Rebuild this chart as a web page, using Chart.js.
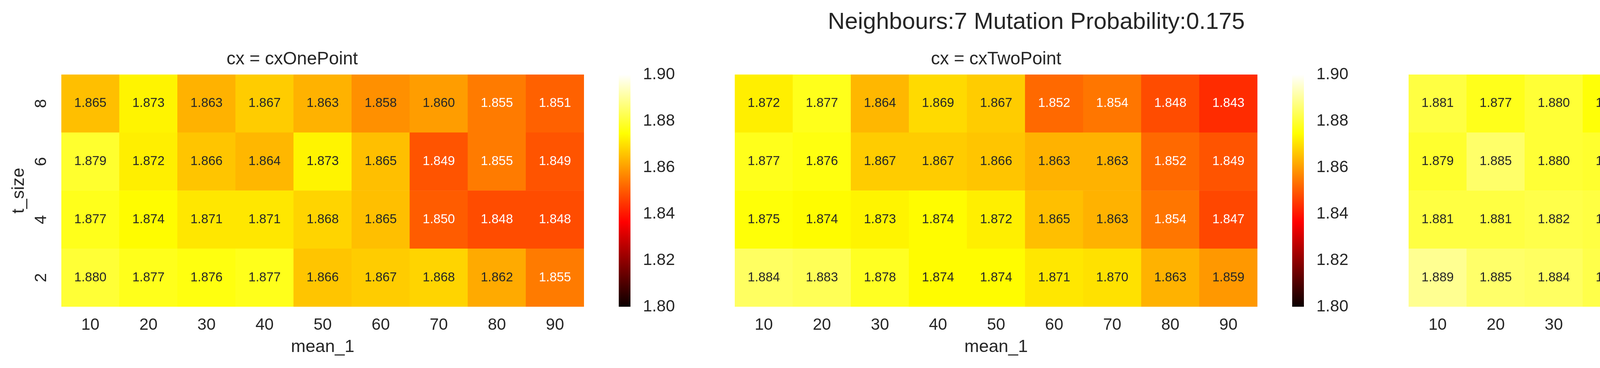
<!DOCTYPE html>
<html>
<head>
<meta charset="utf-8">
<script src="https://cdn.jsdelivr.net/npm/chart.js@4.4.1/dist/chart.umd.min.js"></script>
<style>
  html, body { margin: 0; padding: 0; background: #fff; overflow: hidden; }
  #page { position: relative; width: 5202px; height: 943px; background: #fff; }
  #page canvas { position: absolute; top: 0; }
  #suptitle {
    position: absolute; top: 24px; left: 2653px; transform: translateX(-50%);
    font: 60px "Liberation Sans", Arial, sans-serif; line-height: 60px;
    color: #262626; white-space: nowrap;
  }
</style>
</head>
<body>
<div id="page">
  <div id="suptitle">Neighbours:7 Mutation Probability:0.175</div>
  <canvas id="hm1" width="1650" height="943" style="left:1px"></canvas>
  <canvas id="hm2" width="1650" height="943" style="left:1725px"></canvas>
  <canvas id="hm3" width="1650" height="943" style="left:3450px"></canvas>
  <canvas id="cb1" width="170" height="943" style="left:1584px"></canvas>
  <canvas id="cb2" width="170" height="943" style="left:3308px"></canvas>
  <canvas id="cb3" width="170" height="943" style="left:5032px"></canvas>
</div>
<script>
// axes
const mean1 = ['10', '20', '30', '40', '50', '60', '70', '80', '90'];
const tSize = ['2', '4', '6', '8']; // from bottom row to top row
const cbarTicks = [1.80, 1.82, 1.84, 1.86, 1.88, 1.90];
const vmin = 1.80, vmax = 1.90;

// values, one row per t_size (2, 4, 6, 8)
const onePoint = [
  [1.880, 1.877, 1.876, 1.877, 1.866, 1.867, 1.868, 1.862, 1.855],
  [1.877, 1.874, 1.871, 1.871, 1.868, 1.865, 1.850, 1.848, 1.848],
  [1.879, 1.872, 1.866, 1.864, 1.873, 1.865, 1.849, 1.855, 1.849],
  [1.865, 1.873, 1.863, 1.867, 1.863, 1.858, 1.860, 1.855, 1.851]
];
const twoPoint = [
  [1.884, 1.883, 1.878, 1.874, 1.874, 1.871, 1.870, 1.863, 1.859],
  [1.875, 1.874, 1.873, 1.874, 1.872, 1.865, 1.863, 1.854, 1.847],
  [1.877, 1.876, 1.867, 1.867, 1.866, 1.863, 1.863, 1.852, 1.849],
  [1.872, 1.877, 1.864, 1.869, 1.867, 1.852, 1.854, 1.848, 1.843]
];
const uniform = [
  [1.889, 1.885, 1.884, 1.882, 1.881, 1.877, 1.879, 1.877, 1.869],
  [1.881, 1.881, 1.882, 1.881, 1.881, 1.875, 1.871, 1.866, 1.856],
  [1.879, 1.885, 1.880, 1.879, 1.877, 1.874, 1.871, 1.868, 1.860],
  [1.881, 1.877, 1.880, 1.875, 1.871, 1.875, 1.868, 1.864, 1.853]
];

const ink = '#262626';
Chart.defaults.font.family = '"Liberation Sans", Arial, sans-serif';
Chart.defaults.color = ink;

// matplotlib "hot" colormap (256 entries)
function hotRgb(v) {
  let t = Math.min(1, Math.max(0, (v - vmin) / (vmax - vmin)));
  t = Math.min(255, Math.floor(t * 256)) / 255;
  const r = t < 0.365079 ? 0.0416 + (1 - 0.0416) * t / 0.365079 : 1;
  const g = t < 0.365079 ? 0 : (t < 0.746032 ? (t - 0.365079) / (0.746032 - 0.365079) : 1);
  const b = t < 0.746032 ? 0 : (t - 0.746032) / (1 - 0.746032);
  return [r, g, b];
}
function hot(v) {
  const c = hotRgb(v).map(x => Math.round(x * 255));
  return 'rgb(' + c.join(',') + ')';
}
// same rule seaborn uses to pick the annotation colour
function textColor(v) {
  const lin = hotRgb(v).map(c => c <= 0.03928 ? c / 12.92 : Math.pow((c + 0.055) / 1.055, 2.4));
  const lum = 0.2126 * lin[0] + 0.7152 * lin[1] + 0.0722 * lin[2];
  return lum > 0.408 ? ink : '#ffffff';
}

const cellLabels = {
  id: 'cellLabels',
  afterDatasetsDraw(chart) {
    const ctx = chart.ctx;
    ctx.save();
    ctx.font = '33px "Liberation Sans", Arial, sans-serif';
    ctx.textAlign = 'center';
    ctx.textBaseline = 'middle';
    chart.data.datasets.forEach((ds, di) => {
      chart.getDatasetMeta(di).data.forEach((bar, i) => {
        const v = ds.values[i];
        ctx.fillStyle = textColor(v);
        ctx.fillText(v.toFixed(3), bar.x, (bar.y + bar.base) / 2);
      });
    });
    ctx.restore();
  }
};

function heatmap(id, title, rows, showY) {
  const datasets = rows.map((vals, r) => ({
    data: vals.map(() => [r, r + 1]),
    values: vals,
    backgroundColor: vals.map(v => hot(v)),
    borderWidth: 0,
    barPercentage: 1,
    categoryPercentage: 1,
    grouped: false
  }));
  new Chart(document.getElementById(id), {
    type: 'bar',
    data: { labels: mean1, datasets: datasets },
    plugins: [cellLabels],
    options: {
      responsive: false,
      animation: false,
      devicePixelRatio: 1,
      layout: { padding: { left: showY ? 0 : 156, right: 156, top: 0, bottom: 0 } },
      plugins: {
        legend: { display: false },
        tooltip: { enabled: false },
        title: {
          display: true,
          text: title,
          color: ink,
          font: { size: 46, weight: 'normal' },
          padding: { top: 125, bottom: 10.8 }
        }
      },
      scales: {
        x: {
          type: 'category',
          grid: { display: false, drawTicks: false },
          border: { display: false },
          ticks: { font: { size: 42 }, color: ink, padding: 22, maxRotation: 0, autoSkip: false },
          title: { display: true, text: 'mean_1', color: ink, font: { size: 45 }, padding: { top: 0, bottom: 26 } },
          afterFit: s => { s.height = 157; }
        },
        y: {
          type: 'linear',
          display: showY,
          min: 0,
          max: 4,
          grid: { display: false, drawTicks: false },
          border: { display: false },
          afterBuildTicks: s => { s.ticks = tSize.map((t, i) => ({ value: i + 0.5 })); },
          afterFit: s => { s.width = showY ? 156 : 0; },
          ticks: {
            font: { size: 42 }, color: ink,
            minRotation: 90, maxRotation: 90,
            crossAlign: 'center', padding: 39,
            callback: (v, i) => tSize[i]
          },
          title: { display: true, text: 't_size', color: ink, font: { size: 45 }, padding: { top: 21, bottom: 0 } }
        }
      }
    }
  });
}

function colorbar(id) {
  new Chart(document.getElementById(id), {
    type: 'bar',
    data: {
      labels: [''],
      datasets: [{
        data: [[vmin, vmax]],
        borderWidth: 0,
        barPercentage: 1,
        categoryPercentage: 1,
        backgroundColor: c => {
          const y = c.chart.scales.y;
          if (!y || !c.chart.chartArea) return 'rgba(0,0,0,0)';
          const g = c.chart.ctx.createLinearGradient(0, y.getPixelForValue(vmin), 0, y.getPixelForValue(vmax));
          g.addColorStop(0, 'rgb(11,0,0)');
          g.addColorStop(0.365079, 'rgb(255,0,0)');
          g.addColorStop(0.746032, 'rgb(255,255,0)');
          g.addColorStop(1, 'rgb(255,255,255)');
          return g;
        }
      }]
    },
    options: {
      responsive: false,
      animation: false,
      devicePixelRatio: 1,
      layout: { padding: { left: 0, right: 0, top: 191, bottom: 157 } },
      plugins: { legend: { display: false }, tooltip: { enabled: false } },
      scales: {
        x: { display: false },
        y: {
          position: 'right',
          min: vmin,
          max: vmax,
          grid: { display: false, drawTicks: false },
          border: { display: false },
          afterBuildTicks: s => { s.ticks = cbarTicks.map(v => ({ value: v })); },
          afterFit: s => { s.width = 140; },
          ticks: { font: { size: 42 }, color: ink, padding: 32, callback: v => v.toFixed(2) }
        }
      }
    }
  });
}

heatmap('hm1', 'cx = cxOnePoint', onePoint, true);
heatmap('hm2', 'cx = cxTwoPoint', twoPoint, false);
heatmap('hm3', 'cx = cxUniform', uniform, false);
colorbar('cb1');
colorbar('cb2');
colorbar('cb3');
</script>
</body>
</html>
